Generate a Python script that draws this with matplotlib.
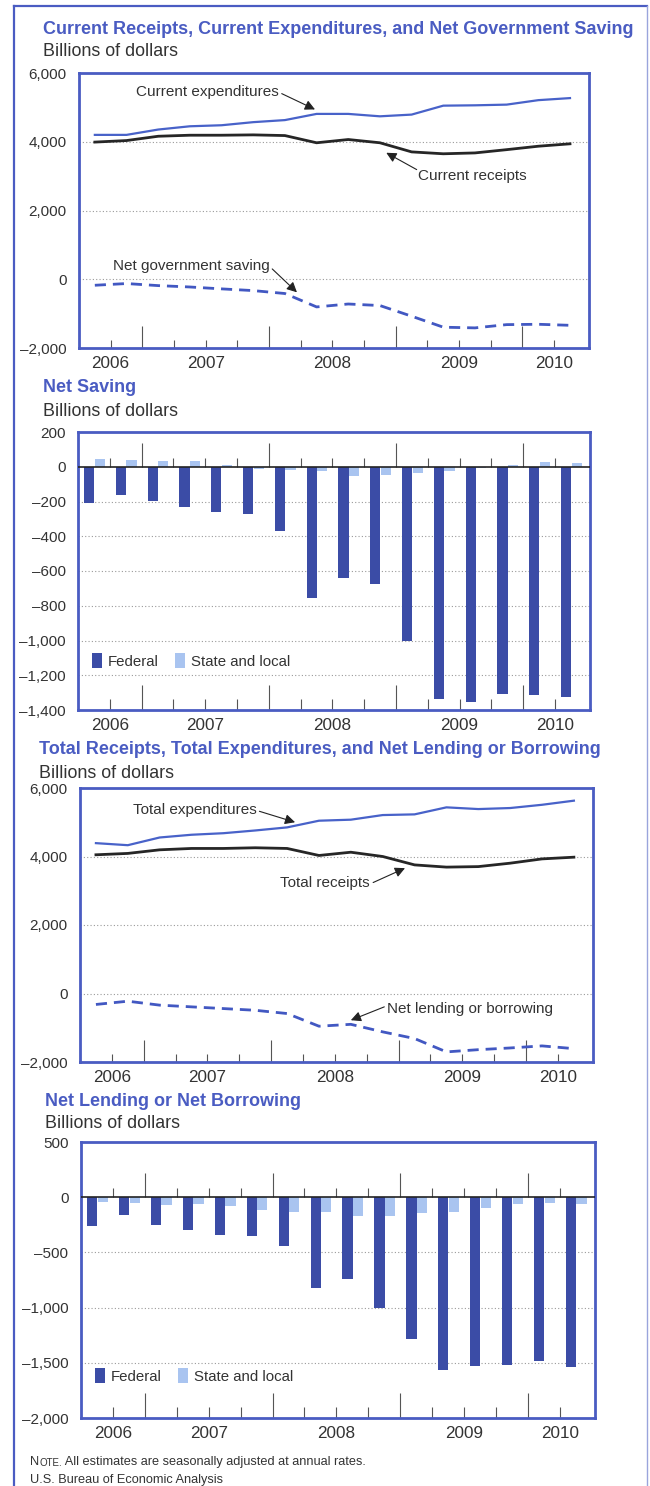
import matplotlib
matplotlib.use("Agg")
import matplotlib.pyplot as plt
from matplotlib.lines import Line2D
from matplotlib.patches import Patch

plt.rcParams["font.family"] = ["Liberation Sans", "DejaVu Sans"]

# quarterly data, 2006Q3 - 2010Q2, billions of dollars (SAAR)
quarters = ["2006Q3", "2006Q4", "2007Q1", "2007Q2", "2007Q3", "2007Q4",
            "2008Q1", "2008Q2", "2008Q3", "2008Q4", "2009Q1", "2009Q2",
            "2009Q3", "2009Q4", "2010Q1", "2010Q2"]

current_expenditures = [4200, 4200, 4355, 4450, 4480, 4570, 4630, 4810,
                        4810, 4740, 4790, 5050, 5060, 5080, 5210, 5270]
current_receipts = [3990, 4035, 4160, 4190, 4190, 4200, 4180, 3970,
                    4065, 3970, 3705, 3650, 3675, 3770, 3870, 3940]
net_government_saving = [-175, -125, -185, -225, -280, -330, -415, -805,
                         -720, -765, -1075, -1395, -1415, -1320, -1310, -1340]

federal_saving = [-210, -160, -198, -232, -262, -272, -372, -757,
                  -642, -675, -1000, -1335, -1355, -1308, -1312, -1325]
state_local_saving = [44, 38, 31, 31, 11, -13, -20, -25,
                      -55, -50, -35, -25, -10, 10, 30, 20]

total_expenditures = [4390, 4330, 4555, 4635, 4680, 4760, 4850, 5045,
                      5075, 5210, 5230, 5435, 5385, 5415, 5510, 5630]
total_receipts = [4050, 4090, 4195, 4235, 4235, 4255, 4235, 4030,
                  4125, 4000, 3755, 3690, 3705, 3805, 3930, 3980]
net_lending = [-320, -225, -340, -390, -440, -490, -585, -955,
               -900, -1120, -1315, -1705, -1640, -1590, -1530, -1610]

federal_lending = [-265, -157, -256, -301, -340, -349, -443, -819,
                   -741, -1006, -1280, -1566, -1527, -1521, -1482, -1536]
state_local_lending = [-45, -54, -69, -66, -81, -120, -130, -135,
                       -166, -166, -145, -135, -96, -60, -51, -60]

years = ["2006", "2007", "2008", "2009", "2010"]
year_label_pos = [0.5, 3.5, 7.5, 11.5, 14.5]
year_break_pos = [1.5, 5.5, 9.5, 13.5]
quarter_tick_pos = [0.5, 2.5, 3.5, 4.5, 6.5, 7.5, 8.5, 10.5, 11.5, 12.5, 14.5]

W, H = 650, 1486
TITLE = "#4a5cc2"
FRAME = "#4a5cc2"
EXP = "#4862c9"
REC = "#262626"
DASH = "#4258c2"
FED = "#3b4ca6"
STATE = "#a9c4f0"
TXT = "#333333"

fig = plt.figure(figsize=(W / 100, H / 100), dpi=100)
x = list(range(len(quarters)))


def add_px_axes(x0, y0, x1, y1):
    return fig.add_axes([x0 / W, 1 - y1 / H, (x1 - x0) / W, (y1 - y0) / H])


def fmt(v):
    s = f"{abs(v):,}"
    return ("\u2013" + s) if v < 0 else s


def style_axes(ax, ylim, yticks, h_px, bars=False):
    ax.set_xlim(-0.5, 15.6)
    ax.set_ylim(*ylim)
    ax.set_xticks([])
    ax.set_yticks(yticks)
    ax.set_yticklabels([fmt(v) for v in yticks])
    ax.tick_params(axis="y", length=0, pad=9, labelsize=11, labelcolor=TXT)
    for s in ax.spines.values():
        s.set_color(FRAME)
        s.set_linewidth(2.0)
    for v in yticks[1:-1]:
        if bars and v == 0:
            continue
        ax.axhline(v, color="#9a9a9a", lw=0.8, ls=(0, (1, 2)), zorder=0)
    per_px = (ylim[1] - ylim[0]) / h_px
    lo = ylim[0]
    short_h, tall_h = (11, 25) if bars else (8, 22)
    ax.vlines(quarter_tick_pos, lo, lo + short_h * per_px, color="#555", lw=0.8, zorder=1)
    ax.vlines(year_break_pos, lo, lo + tall_h * per_px, color="#555", lw=0.8, zorder=1)
    if bars:
        ax.vlines(quarter_tick_pos, 0, 9 * per_px, color="#555", lw=0.8, zorder=1)
        ax.vlines(year_break_pos, 0, 24 * per_px, color="#555", lw=0.8, zorder=1)
        ax.axhline(0, color="#222", lw=1.2, zorder=3)
    for p, yr in zip(year_label_pos, years):
        ax.annotate(yr, xy=(p, 0), xycoords=("data", "axes fraction"),
                    xytext=(0, -11), textcoords="offset points",
                    ha="center", va="center", fontsize=12.3, color=TXT)


def header(x0, y_title, y_sub, title):
    fig.text(x0 / W, 1 - y_title / H, title, fontsize=12.95, fontweight="bold",
             color=TITLE, va="center", ha="left")
    fig.text(x0 / W, 1 - y_sub / H, "Billions of dollars", fontsize=12.9,
             color=TXT, va="center", ha="left")


def label(ax, text, tx, ty, ha, tail, head):
    ax.text(tx, ty, text, ha=ha, va="center", fontsize=11, color=TXT)
    ax.annotate("", xy=head, xytext=tail,
                arrowprops=dict(arrowstyle="-|>", color="#222", lw=0.8,
                                mutation_scale=15, shrinkA=0, shrinkB=0))


def bar_legend(ax, yfrac):
    handles = [Patch(facecolor=FED, edgecolor="none"),
               Patch(facecolor=STATE, edgecolor="none")]
    ax.legend(handles, ["Federal", "State and local"], loc="center left",
              bbox_to_anchor=(0.012, yfrac), frameon=False, ncol=2,
              handlelength=0.7, handleheight=1.1, handletextpad=0.35,
              columnspacing=1.1, fontsize=10.8, borderpad=0, labelcolor=TXT)


# page frame
fig.add_artist(Line2D([14 / W, 14 / W], [0, 1 - 6 / H], color=FRAME, lw=1.6,
                      transform=fig.transFigure))
fig.add_artist(Line2D([14 / W, 647 / W], [1 - 6 / H, 1 - 6 / H], color=FRAME,
                      lw=1.6, transform=fig.transFigure))
fig.add_artist(Line2D([647 / W, 647 / W], [0, 1 - 6 / H], color="#9aa5dc",
                      lw=1.0, transform=fig.transFigure))

# panel 1
header(43, 30, 52, "Current Receipts, Current Expenditures, and Net Government Saving")
ax1 = add_px_axes(79, 73, 589, 348)
style_axes(ax1, (-2000, 6000), [-2000, 0, 2000, 4000, 6000], 275)
ax1.plot(x, current_expenditures, color=EXP, lw=1.6, zorder=4)
ax1.plot(x, current_receipts, color=REC, lw=2.0, zorder=4)
ax1.plot(x, net_government_saving, color=DASH, lw=2.0, ls=(0, (4, 2.5)), zorder=4)
label(ax1, "Current expenditures", 5.82, 5450, "right", (5.9, 5400), (6.95, 4940))
label(ax1, "Current receipts", 10.2, 3000, "left", (10.16, 3190), (9.2, 3680))
label(ax1, "Net government saving", 5.53, 380, "right", (5.6, 300), (6.38, -380))

# panel 2
header(43, 388, 412, "Net Saving")
ax2 = add_px_axes(78, 432, 590, 710)
style_axes(ax2, (-1400, 200), list(range(-1400, 201, 200)), 278, bars=True)
ax2.bar([i - 0.15 for i in x], federal_saving, width=0.32, color=FED, zorder=2)
ax2.bar([i + 0.18 for i in x], state_local_saving, width=0.32, color=STATE, zorder=2)
bar_legend(ax2, 0.176)

# panel 3
header(39, 750, 773, "Total Receipts, Total Expenditures, and Net Lending or Borrowing")
ax3 = add_px_axes(80, 788, 593, 1062)
style_axes(ax3, (-2000, 6000), [-2000, 0, 2000, 4000, 6000], 274)
ax3.plot(x, total_expenditures, color=EXP, lw=1.6, zorder=4)
ax3.plot(x, total_receipts, color=REC, lw=2.0, zorder=4)
ax3.plot(x, net_lending, color=DASH, lw=2.0, ls=(0, (4, 2.5)), zorder=4)
label(ax3, "Total expenditures", 5.06, 5350, "right", (5.13, 5320), (6.25, 5000))
label(ax3, "Total receipts", 8.6, 3220, "right", (8.7, 3240), (9.7, 3660))
label(ax3, "Net lending or borrowing", 9.15, -440, "left", (9.05, -390), (8.0, -780))

# panel 4
header(45, 1102, 1123, "Net Lending or Net Borrowing")
ax4 = add_px_axes(81, 1142, 595, 1418)
style_axes(ax4, (-2000, 500), [-2000, -1500, -1000, -500, 0, 500], 276, bars=True)
ax4.bar([i - 0.15 for i in x], federal_lending, width=0.32, color=FED, zorder=2)
ax4.bar([i + 0.18 for i in x], state_local_lending, width=0.32, color=STATE, zorder=2)
bar_legend(ax4, 0.152)

# note, "Note" in small caps
nsize = 9.2
t1 = fig.text(30 / W, 1 - 1462 / H, "N", fontsize=nsize, color=TXT, va="center")
t2 = fig.add_artist(plt.Annotation("OTE.", xy=(1, 0), xycoords=t1, xytext=(0, 0),
                                   textcoords="offset points", fontsize=nsize * 0.76,
                                   color=TXT, va="bottom", ha="left",
                                   annotation_clip=False))
fig.add_artist(plt.Annotation(" All estimates are seasonally adjusted at annual rates.",
                              xy=(1, 0), xycoords=t2, fontsize=nsize, color=TXT,
                              va="bottom", ha="left", annotation_clip=False))
fig.text(30 / W, 1 - 1480 / H, "U.S. Bureau of Economic Analysis", fontsize=nsize,
         color=TXT, va="center")

fig.savefig("out.png", dpi=100)
